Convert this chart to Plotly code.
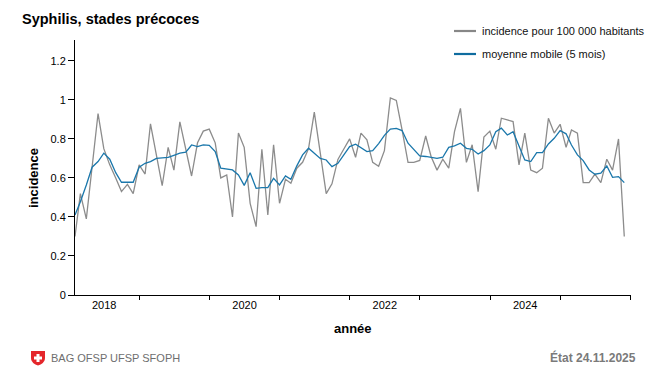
import base64
import pandas as pd
import plotly.graph_objects as go

# ---- data (monthly, Jan 2018 .. Nov 2025) ----
months = pd.date_range("2018-01-31", periods=95, freq="ME")

incidence = [0.30, 0.52, 0.39, 0.655, 0.93, 0.75, 0.667, 0.60, 0.53, 0.567,
             0.52, 0.667, 0.62, 0.877, 0.72, 0.56, 0.757, 0.64, 0.887, 0.75,
             0.61, 0.78, 0.84, 0.85, 0.78, 0.60, 0.615, 0.40, 0.83, 0.757,
             0.47, 0.35, 0.747, 0.41, 0.77, 0.47, 0.593, 0.573, 0.65, 0.68,
             0.75, 0.937, 0.74, 0.52, 0.57, 0.695, 0.747, 0.80, 0.706, 0.83,
             0.795, 0.68, 0.66, 0.74, 1.01, 0.997, 0.846, 0.68, 0.68, 0.69,
             0.815, 0.71, 0.64, 0.696, 0.65, 0.837, 0.957, 0.68, 0.77, 0.53,
             0.81, 0.84, 0.747, 0.906, 0.897, 0.889, 0.667, 0.83, 0.64, 0.627,
             0.65, 0.906, 0.83, 0.875, 0.757, 0.846, 0.83, 0.576, 0.576, 0.62,
             0.576, 0.696, 0.64, 0.80, 0.30]

moving_avg = [0.41, 0.478, 0.564, 0.655, 0.684, 0.727, 0.696, 0.627, 0.578, 0.578,
              0.578, 0.655, 0.675, 0.684, 0.70, 0.703, 0.705, 0.716, 0.727, 0.732,
              0.769, 0.761, 0.769, 0.767, 0.735, 0.65, 0.646, 0.641, 0.615, 0.562,
              0.627, 0.547, 0.55, 0.55, 0.598, 0.564, 0.61, 0.593, 0.662, 0.718,
              0.752, 0.727, 0.70, 0.692, 0.658, 0.675, 0.718, 0.761, 0.773, 0.757,
              0.735, 0.74, 0.776, 0.818, 0.85, 0.854, 0.843, 0.778, 0.744, 0.713,
              0.71, 0.706, 0.70, 0.706, 0.757, 0.764, 0.778, 0.752, 0.747, 0.723,
              0.74, 0.769, 0.837, 0.855, 0.82, 0.837, 0.764, 0.692, 0.684, 0.73,
              0.73, 0.774, 0.803, 0.843, 0.826, 0.769, 0.718, 0.689, 0.641, 0.619,
              0.624, 0.662, 0.603, 0.607, 0.576]

series_names = ["incidence pour 100 000 habitants", "moyenne mobile (5 mois)"]
label_years = ["2018", "2020", "2022", "2024"]
year_bounds = ["2019", "2020", "2021", "2022", "2023", "2024", "2025", "2026"]
y_ticks = [0, 0.2, 0.4, 0.6, 0.8, 1, 1.2]

FONT = "Liberation Sans, Arial, sans-serif"
GRAY = "#8c8c8c"
BLUE = "#1a77ab"
LEG_COLORS = ["#878787", "#0f6c9f"]

# plot-area geometry in pixels (for placing decorations)
L, R, T, B = 75, 631, 40, 295
def px(x):
    return (x - L) / (R - L)
def py(y):
    return (B - y) / (B - T)

fig = go.Figure()
fig.add_trace(go.Scatter(x=months, y=incidence, mode="lines",
                         name=series_names[0],
                         line=dict(color=GRAY, width=1.3)))
fig.add_trace(go.Scatter(x=months, y=moving_avg, mode="lines",
                         name=series_names[1],
                         line=dict(color=BLUE, width=1.3)))

shield_svg = (
    '<svg xmlns="http://www.w3.org/2000/svg" width="32" height="32" viewBox="0 0 32 32">'
    '<path d="M2 2 H30 V16 C30 24 23 29 16 31 C9 29 2 24 2 16 Z" fill="#e4262b"/>'
    '<rect x="13" y="8" width="6" height="16" fill="#fff"/>'
    '<rect x="8" y="13" width="16" height="6" fill="#fff"/></svg>'
)
shield_src = "data:image/svg+xml;base64," + base64.b64encode(shield_svg.encode()).decode()

# manual legend
legend_rows = [31, 54]
shapes = []
annotations = []
for name, col, yy in zip(series_names, LEG_COLORS, legend_rows):
    shapes.append(dict(type="line", xref="paper", yref="paper",
                       x0=px(454), x1=px(476), y0=py(yy), y1=py(yy),
                       line=dict(color=col, width=2.2)))
    annotations.append(dict(text=name, xref="paper", yref="paper",
                            x=px(480), y=py(yy), showarrow=False,
                            xanchor="left", yanchor="middle",
                            font=dict(size=11, color="#111")))

annotations += [
    dict(text="<b>incidence</b>", xref="paper", yref="paper",
         x=px(33), y=py(178), textangle=-90, showarrow=False,
         xanchor="center", yanchor="middle", font=dict(size=13)),
    dict(text="<b>année</b>", xref="paper", yref="paper",
         x=px(353), y=py(328), showarrow=False,
         xanchor="center", yanchor="middle", font=dict(size=13)),
    dict(text="BAG OFSP UFSP SFOPH", xref="paper", yref="paper",
         x=px(49), y=py(358), showarrow=False,
         xanchor="left", yanchor="middle", font=dict(size=11, color="#6e6e6e")),
    dict(text="<b>État 24.11.2025</b>", xref="paper", yref="paper",
         x=px(638), y=py(357), showarrow=False,
         xanchor="right", yanchor="middle", font=dict(size=12, color="#7a7a7a")),
]

fig.update_layout(
    width=650, height=368,
    margin=dict(l=L, r=650 - R, t=T, b=368 - B),
    paper_bgcolor="white", plot_bgcolor="white",
    font=dict(family=FONT, size=11, color="black"),
    title=dict(text="<b>Syphilis, stades précoces</b>", x=22/650, xanchor="left",
               y=1-19/368, yanchor="middle", font=dict(size=14.5, family=FONT)),
    showlegend=False,
    xaxis=dict(
        type="date",
        range=["2018-01-31", "2026-01-04"],
        tickvals=[f"{y}-07-02" for y in label_years],
        ticktext=label_years,
        ticks="", showgrid=False, zeroline=False,
        showline=True, linecolor="black", linewidth=1,
        tickfont=dict(size=11),
        minor=dict(tickvals=[f"{y}-01-01" for y in year_bounds], ticks="outside",
                   ticklen=4, tickcolor="black", showgrid=False),
    ),
    yaxis=dict(
        range=[0, 1.307],
        tickvals=y_ticks,
        ticktext=[("%g" % v) for v in y_ticks],
        ticks="outside", ticklen=6, tickcolor="black",
        showgrid=False, zeroline=False,
        showline=True, linecolor="black", linewidth=1,
        tickfont=dict(size=11),
    ),
    shapes=shapes,
    annotations=annotations,
    images=[dict(source=shield_src, xref="paper", yref="paper",
                 x=px(30), y=py(350), sizex=16/(R-L), sizey=16/(B-T),
                 xanchor="left", yanchor="top", sizing="contain", layer="above")],
)

fig.write_html("out.html", config={"displayModeBar": False},
               post_script="document.body.style.margin='0px';document.body.style.overflow='hidden';")
